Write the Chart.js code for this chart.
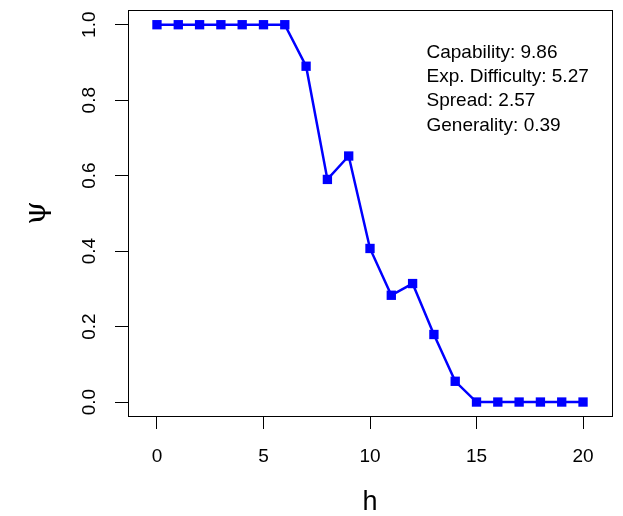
<!DOCTYPE html>
<html>
<head>
<meta charset="utf-8">
<script src="https://cdn.jsdelivr.net/npm/chart.js@4"></script>
<style>
    html, body { margin: 0; padding: 0; background: #fff; }
    canvas { display: block; }
</style>
</head>
<body>
<canvas id="myChart" width="623" height="516"></canvas>
<script>
var h_values = [0, 1, 2, 3, 4, 5, 6, 7, 8, 9, 10, 11, 12, 13, 14, 15, 16, 17, 18, 19, 20];
var psi_values = [1, 1, 1, 1, 1, 1, 1, 0.89, 0.59, 0.652, 0.407, 0.283, 0.314, 0.179, 0.055, 0, 0, 0, 0, 0, 0];
var x_ticks = [0, 5, 10, 15, 20];
var y_ticks = [0, 0.2, 0.4, 0.6, 0.8, 1.0];
var info_lines = ['Capability: 9.86', 'Exp. Difficulty: 5.27', 'Spread: 2.57', 'Generality: 0.39'];

Chart.defaults.color = '#000';
Chart.defaults.font.family = '"Liberation Sans", Arial, sans-serif';

// white page + box round the plot + text block top right
var box_plugin = {
    id: 'box',
    beforeDraw: function (chart) {
        var ctx = chart.ctx;
        ctx.save();
        ctx.fillStyle = '#fff';
        ctx.fillRect(0, 0, chart.width, chart.height);
        ctx.restore();
    },
    afterDraw: function (chart) {
        var ctx = chart.ctx;
        var a = chart.chartArea;
        ctx.save();
        ctx.strokeStyle = '#000';
        ctx.lineWidth = 1;
        ctx.strokeRect(Math.round(a.left) + 0.5, Math.round(a.top) + 0.5,
            Math.round(a.right - a.left), Math.round(a.bottom - a.top));
        ctx.fillStyle = '#000';
        ctx.font = '19px "Liberation Sans", Arial, sans-serif';
        ctx.textAlign = 'left';
        ctx.textBaseline = 'alphabetic';
        for (var i = 0; i < info_lines.length; i++) {
            ctx.fillText(info_lines[i], 426.5, 57.5 + i * 24.4);
        }
        ctx.restore();
    }
};

function chart1() {
    var ctx = document.getElementById('myChart').getContext('2d');

    var points = [];
    for (var i = 0; i < h_values.length; i++) {
        points.push({ x: h_values[i], y: psi_values[i] });
    }

    var myChart = new Chart(ctx, {
        type: 'line',
        data: {
            datasets: [{
                data: points,
                borderColor: '#0000ff',
                backgroundColor: '#0000ff',
                borderWidth: 2.5,
                pointStyle: 'rect',
                pointRadius: 6.6,
                pointBorderWidth: 0,
                pointBackgroundColor: '#0000ff',
                tension: 0,
                clip: false
            }]
        },
        options: {
            responsive: false,
            animation: false,
            layout: { padding: { top: 10, right: 11, bottom: 0, left: 0 } },
            plugins: {
                legend: { display: false },
                tooltip: { enabled: false }
            },
            scales: {
                x: {
                    type: 'linear',
                    min: -1.36,
                    max: 21.36,
                    afterBuildTicks: function (scale) {
                        scale.ticks = x_ticks.map(function (v) { return { value: v }; });
                    },
                    afterFit: function (scale) {
                        scale.height = 100;
                        scale.paddingLeft = 0;
                        scale.paddingRight = 0;
                    },
                    grid: { drawOnChartArea: false, drawTicks: true, tickLength: 13, color: '#000', lineWidth: 1 },
                    border: { display: false },
                    ticks: {
                        padding: 16,
                        maxRotation: 0,
                        font: { size: 19 },
                        callback: function (value) { return String(value); }
                    },
                    title: {
                        display: true,
                        text: 'h',
                        font: { size: 27, lineHeight: 1 },
                        padding: { top: 0, bottom: 0 }
                    }
                },
                y: {
                    type: 'linear',
                    min: -0.037,
                    max: 1.039,
                    afterBuildTicks: function (scale) {
                        scale.ticks = y_ticks.map(function (v) { return { value: v }; });
                    },
                    afterFit: function (scale) {
                        scale.width = 128;
                        scale.paddingTop = 0;
                        scale.paddingBottom = 0;
                    },
                    grid: { drawOnChartArea: false, drawTicks: true, tickLength: 13, color: '#000', lineWidth: 1 },
                    border: { display: false },
                    ticks: {
                        padding: 12,
                        minRotation: 90,
                        maxRotation: 90,
                        crossAlign: 'center',
                        font: { size: 19 },
                        callback: function (value) { return value.toFixed(1); }
                    },
                    title: {
                        display: true,
                        text: 'ψ',
                        font: { family: '"DejaVu Serif", "Liberation Serif", serif', size: 30, lineHeight: 1 },
                        padding: { top: 22, bottom: 0 }
                    }
                }
            }
        },
        plugins: [box_plugin]
    });
}

chart1();
</script>
</body>
</html>
